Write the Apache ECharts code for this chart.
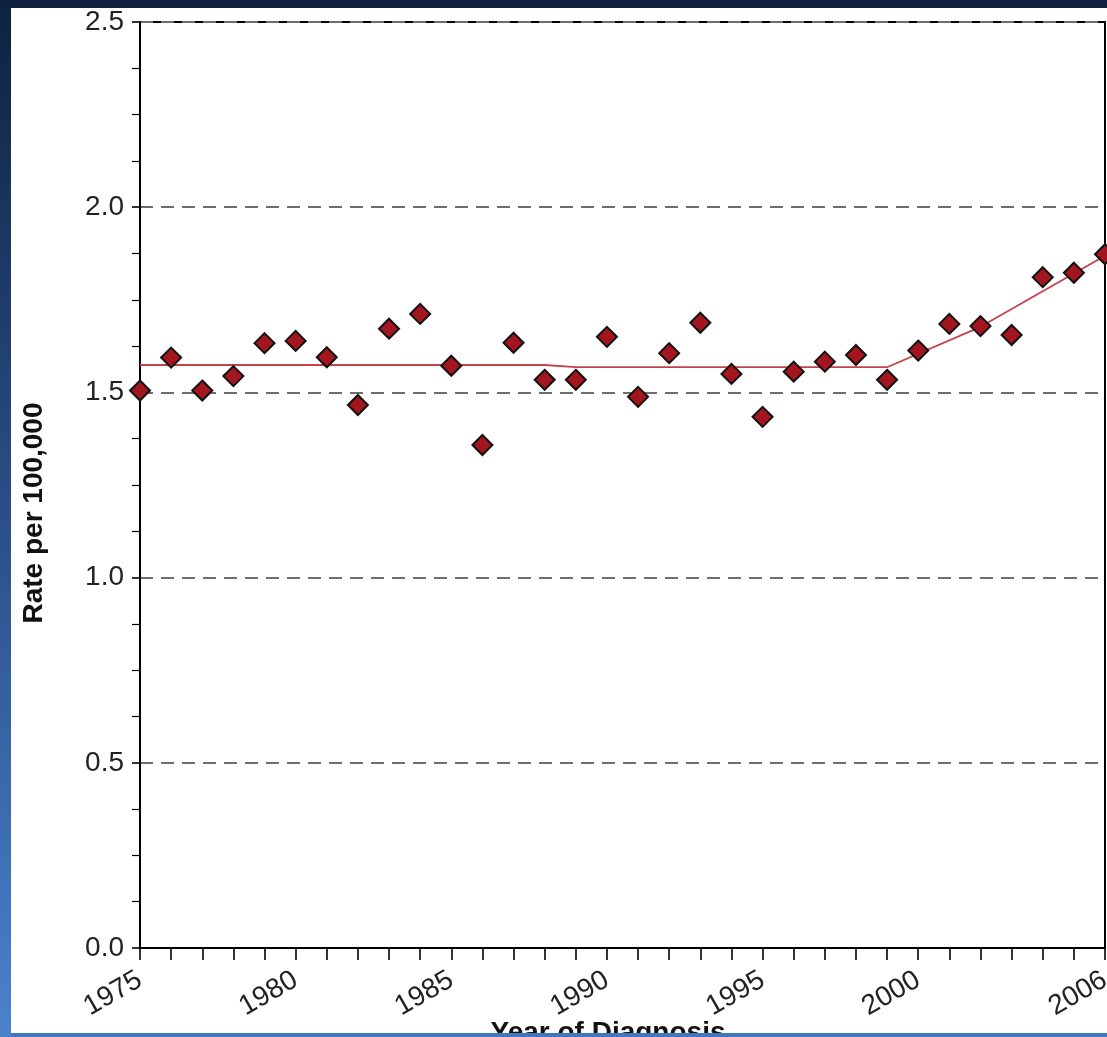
<!DOCTYPE html>
<html>
<head>
<meta charset="utf-8">
<script src="https://cdn.jsdelivr.net/npm/echarts@6/dist/echarts.min.js"></script>
<style>
html,body{margin:0;padding:0;background:#fff;overflow:hidden;}
#chart{width:1107px;height:1037px;}
</style>
</head>
<body>
<div id="chart"></div>
<script>
const years = [1975,1976,1977,1978,1979,1980,1981,1982,1983,1984,1985,1986,1987,1988,1989,1990,1991,1992,1993,1994,1995,1996,1997,1998,1999,2000,2001,2002,2003,2004,2005,2006];
const rates = [1.505,1.594,1.505,1.544,1.633,1.639,1.595,1.466,1.672,1.712,1.572,1.358,1.634,1.534,1.534,1.650,1.488,1.606,1.688,1.550,1.434,1.556,1.583,1.601,1.534,1.613,1.685,1.679,1.655,1.811,1.823,1.873];
const trendYears = [1975,1988,1989,1999,2002,2006];
const trendRates = [1.574,1.574,1.568,1.568,1.677,1.869];
const xLabelYears = [1975,1980,1985,1990,1995,2000,2006];
const yTicks = [0.0,0.5,1.0,1.5,2.0,2.5];

const chart = echarts.init(document.getElementById('chart'));
const font = 'Liberation Sans, Arial, sans-serif';

chart.setOption({
  backgroundColor: '#ffffff',
  animation: false,
  grid: {left: 140, top: 22, right: 2, bottom: 89, outerBoundsMode: 'none', containLabel: false, show: true, borderColor: '#000', borderWidth: 2, backgroundColor: 'transparent'},
  xAxis: {
    type: 'value', min: years[0], max: years[years.length-1], interval: 1,
    axisLine: {show: true, lineStyle: {color: '#000', width: 2}},
    axisTick: {show: true, length: 12, inside: false, lineStyle: {color: '#000', width: 1.6}},
    splitLine: {show: false},
    axisLabel: {
      rotate: 30, margin: 30, fontSize: 28, fontFamily: font, color: '#222',
      showMinLabel: true, showMaxLabel: true, hideOverlap: false,
      formatter: v => xLabelYears.indexOf(Math.round(v)) >= 0 ? String(Math.round(v)) : ''
    }
  },
  yAxis: {
    type: 'value', min: yTicks[0], max: yTicks[yTicks.length-1], interval: 0.5,
    name: 'Rate per 100,000', nameLocation: 'middle', nameRotate: 90, nameGap: 92,
    nameTextStyle: {fontSize: 28, fontWeight: 'bold', fontFamily: font, color: '#111', padding: [0, 56, 0, 0]},
    axisLine: {show: true, lineStyle: {color: '#000', width: 2}},
    axisTick: {show: true, length: 8, inside: false, lineStyle: {color: '#000', width: 1.6}},
    minorTick: {show: true, splitNumber: 4, length: 8, lineStyle: {color: '#000', width: 1.2}},
    splitLine: {show: true, lineStyle: {color: '#6e6e6e', width: 1.8, type: [13, 8]}},
    axisLabel: {margin: 16, fontSize: 28, fontFamily: font, color: '#222', formatter: v => v.toFixed(1)}
  },
  series: [
    {
      type: 'line', data: trendYears.map((y,i)=>[y, trendRates[i]]),
      symbol: 'none', lineStyle: {color: '#c4434b', width: 1.8}, z: 2, clip: false
    },
    {
      type: 'scatter', data: years.map((y,i)=>[y, rates[i]]),
      symbol: 'diamond', symbolSize: 20,
      itemStyle: {color: '#a3161f', borderColor: '#111', borderWidth: 2, opacity: 1},
      z: 3, clip: false
    }
  ],
  graphic: [
    {type: 'text', z: 50, x: 608, y: 1033, style: {text: 'Year of Diagnosis', fontSize: 28, fontWeight: 'bold', fontFamily: font, fill: '#111', align: 'center', verticalAlign: 'middle'}},
    {type: 'rect', z: 100, shape: {x: 0, y: 0, width: 1107, height: 8}, style: {fill: '#0f2341'}},
    {type: 'rect', z: 100, shape: {x: 0, y: 1033, width: 1107, height: 4}, style: {fill: '#4277bf'}},
    {type: 'rect', z: 100, shape: {x: 0, y: 0, width: 11, height: 1037}, style: {fill: new echarts.graphic.LinearGradient(0,0,0,1,[{offset:0,color:'#0f2240'},{offset:0.5,color:'#2a4f88'},{offset:1,color:'#4a82cc'}])}}
  ]
});
</script>
</body>
</html>
